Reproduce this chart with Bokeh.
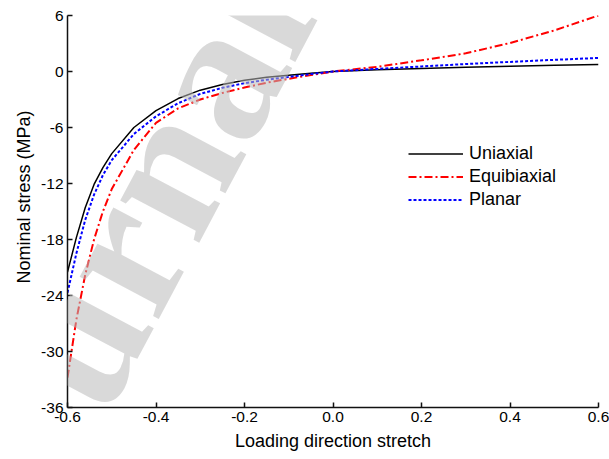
import math

from bokeh.embed import file_html
from bokeh.models import FixedTicker, Label, Legend, LegendItem, Range1d, Title
from bokeh.plotting import figure
from bokeh.resources import INLINE

# Loading direction stretch (x) and nominal stress in MPa for each loading mode
stretch = [-0.60, -0.58, -0.56, -0.54, -0.52, -0.50, -0.45, -0.40, -0.35, -0.30, -0.25,
           -0.20, -0.15, -0.10, -0.05, 0.00, 0.10, 0.20, 0.30, 0.40, 0.50, 0.60]
uniaxial = [-21.5, -17.8, -14.6, -12.1, -10.3, -8.8, -6.0, -4.2, -2.9, -2.0, -1.4,
            -0.93, -0.62, -0.40, -0.18, 0.0, 0.18, 0.33, 0.45, 0.56, 0.66, 0.75]
equibiaxial = [-32.8, -26.6, -21.8, -18.0, -15.0, -12.6, -8.4, -5.5, -3.95, -3.0, -2.3,
               -1.72, -1.2, -0.78, -0.38, 0.0, 0.5, 1.2, 1.95, 3.05, 4.4, 6.0]
planar = [-23.7, -19.5, -15.9, -13.2, -11.1, -9.5, -6.7, -4.8, -3.4, -2.4, -1.75,
          -1.25, -0.88, -0.58, -0.28, 0.0, 0.28, 0.54, 0.80, 1.03, 1.25, 1.45]

x_ticks = [-0.6, -0.4, -0.2, 0.0, 0.2, 0.4, 0.6]
x_tick_labels = ["-0.6", "-0.4", "-0.2", "0.0", "0.2", "0.4", "0.6"]
y_ticks = [-36, -30, -24, -18, -12, -6, 0, 6]
y_tick_labels = ["-36", "-30", "-24", "-18", "-12", "-6", "0", "6"]

FONT = "Liberation Sans"

p = figure(width=609, height=459, output_backend="svg", toolbar_location=None,
           x_range=Range1d(-0.6, 0.6), y_range=Range1d(-36, 6),
           min_border_left=67, min_border_right=11, min_border_top=15,
           min_border_bottom=52)
p.outline_line_color = None
p.grid.visible = False
p.background_fill_color = "white"
p.border_fill_color = "white"

for ax, ticks, labels in ((p.xaxis[0], x_ticks, x_tick_labels),
                          (p.yaxis[0], y_ticks, y_tick_labels)):
    ax.ticker = FixedTicker(ticks=ticks)
    ax.major_label_overrides = {t: l for t, l in zip(ticks, labels)}
    ax.axis_line_color = "#111111"
    ax.axis_line_width = 1.5
    ax.major_tick_line_color = "#111111"
    ax.major_tick_line_width = 1.5
    ax.major_tick_in = 5
    ax.major_tick_out = 0
    ax.minor_tick_line_color = None
    ax.major_label_text_font = FONT
    ax.major_label_text_font_size = "15.5px"
    ax.major_label_text_color = "black"

p.xaxis.major_label_standoff = 4
p.yaxis.major_label_standoff = 4
p.xaxis.axis_label = "Loading direction stretch"
p.xaxis.axis_label_text_font = FONT
p.xaxis.axis_label_text_font_size = "18px"
p.xaxis.axis_label_text_font_style = "normal"
p.xaxis.axis_label_text_color = "black"
p.xaxis.axis_label_standoff = 6

# Vertical axis title as a side title so it can sit a little above the centre
p.add_layout(Title(text="Nominal stress (MPa)", align="left", offset=124,
                   text_font=FONT, text_font_size="18px", text_font_style="normal",
                   text_color="black", standoff=9), "left")

r_uni = p.line(stretch, uniaxial, line_color="black", line_width=1.5)
r_equi = p.line(stretch, equibiaxial, line_color="#ff0000", line_width=2,
                line_dash="8 3 2 3")
r_plan = p.line(stretch, planar, line_color="#0000ff", line_width=2,
                line_dash="3 2")

legend = Legend(
    items=[LegendItem(label="Uniaxial", renderers=[r_uni]),
           LegendItem(label="Equibiaxial", renderers=[r_equi]),
           LegendItem(label="Planar", renderers=[r_plan])],
    location=(341, 196), border_line_color=None, background_fill_alpha=0,
    padding=0, margin=0, spacing=0, glyph_width=55, glyph_height=23,
    label_height=23, label_standoff=6, label_text_font=FONT,
    label_text_font_size="18px", label_text_color="black",
)
p.add_layout(legend)

# Grey "Journal" watermark drawn over the plot, anchored at its centre
p.add_layout(Label(x=-0.5083, y=-21.64, text="Journal", angle=math.radians(62),
                   text_align="center", text_baseline="alphabetic",
                   text_font="Liberation Serif", text_font_style="bold",
                   text_font_size="195px", text_color="#b9b9b9", text_alpha=0.55))

open("out.html", "w").write(file_html(p, INLINE))
